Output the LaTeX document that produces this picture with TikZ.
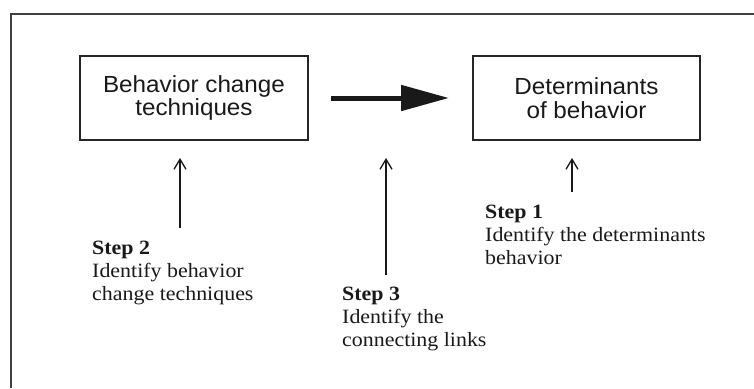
\documentclass[tikz,border=0pt]{standalone}
\usepackage{fontspec}
\setmainfont{Liberation Serif}[FakeStretch=1.08]
\setsansfont{Liberation Sans}[FakeStretch=1.04]
\usetikzlibrary{arrows.meta}
\tikzset{
  boxnode/.style={draw=black!85, line width=1.4pt, minimum width=228pt, minimum height=84pt,
    inner sep=0pt, align=center, font=\sffamily\fontsize{23.3}{23.5}\selectfont, text=black!90},
  steptext/.style={anchor=base west, align=left, inner sep=0pt,
    font=\fontsize{20.3}{22.7}\selectfont, text=black!90},
  bigarrow/.style={line width=5pt, draw=black!90, -{Triangle[length=48pt,width=25pt]}},
  thinarrow/.style={line width=1.3pt, draw=black!90, -{Straight Barb[length=10pt,width=12pt]}},
  frameline/.style={draw=black!75, line width=1.5pt}
}
\begin{document}
\begin{tikzpicture}[x=1pt,y=-1pt]
\useasboundingbox (0,0) rectangle (754,388);
\draw[frameline] (11,388) -- (11,14) -- (754,14);
\node[boxnode] (box1) at (194,98) {Behavior change\\techniques};
\node[boxnode, minimum width=227pt] (box2) at (586.5,98) {Determinants\\of behavior};
\coordinate (bigstart) at (331,98);
\coordinate (bigend) at (449,98);
\draw[bigarrow] (bigstart) -- (bigend);
\node[steptext] (step2) at (92,300) {\textbf{Step 2}\\Identify behavior\\change techniques};
\node[steptext] (step3) at (342,346) {\textbf{Step 3}\\Identify the\\connecting links};
\node[steptext] (step1) at (485,264) {\textbf{Step 1}\\Identify the determinants\\behavior};
\coordinate (a2) at (180,228);
\coordinate (a3) at (386,275);
\coordinate (a1) at (572,192);
\coordinate (t2) at (180,158);
\coordinate (t3) at (386,158);
\coordinate (t1) at (572,158);
\draw[thinarrow] (a2) -- (t2);
\draw[thinarrow] (a3) -- (t3);
\draw[thinarrow] (a1) -- (t1);
\end{tikzpicture}
\end{document}
